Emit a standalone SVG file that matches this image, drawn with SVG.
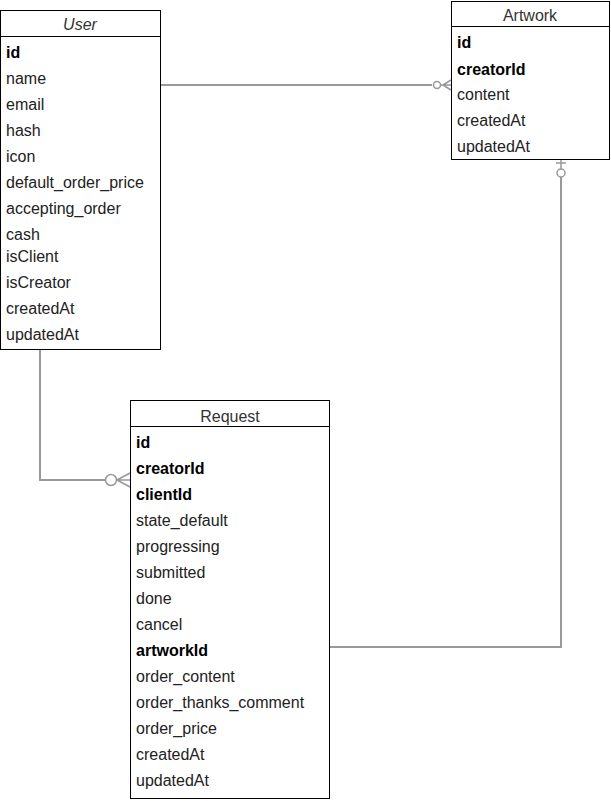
<svg xmlns="http://www.w3.org/2000/svg" width="611" height="801" viewBox="0 0 611 801">
<style>
.box{fill:#fff;stroke:#000;stroke-width:1}
.t{font-family:"Liberation Sans",Arial,sans-serif;font-size:16px;fill:#222}
.b{font-weight:bold;fill:#000}
.title{text-anchor:middle;fill:#333}
.c{fill:none;stroke:#999;stroke-width:2}
.m{fill:#fff;stroke:#999;stroke-width:1.5}
.f{fill:none;stroke:#999;stroke-width:1.5}
</style>
<rect width="611" height="801" fill="#fff"/>
<g id="connectors">
<path class="c" d="M160 85 H432"/>
<circle class="m" cx="437" cy="85" r="3.5"/>
<path class="f" d="M441 85 L451 85 M443 85 L451 80 M443 85 L451 90"/>
<path class="c" d="M40 349 V480 H105"/>
<circle class="m" cx="111" cy="480" r="5.5"/>
<path class="f" d="M117 480 L130 480 M117 480 L130 473 M117 480 L130 487"/>
<path class="c" d="M330 647 H561 V177"/>
<circle class="m" cx="561" cy="173" r="4"/>
<path class="f" d="M561 160 V169 M556 163 H566"/>
</g>
<g id="user">
<rect class="box" x="0.5" y="10.5" width="160" height="339"/>
<line x1="0.5" y1="36.5" x2="160.5" y2="36.5" stroke="#000"/>
<text class="t title" x="80" y="30" font-style="italic">User</text>
<text class="t b" x="6" y="58">id</text>
<text class="t" x="6" y="84">name</text>
<text class="t" x="6" y="110">email</text>
<text class="t" x="6" y="136">hash</text>
<text class="t" x="6" y="162">icon</text>
<text class="t" x="6" y="188">default_order_price</text>
<text class="t" x="6" y="214">accepting_order</text>
<text class="t" x="6" y="240">cash</text>
<text class="t" x="6" y="262">isClient</text>
<text class="t" x="6" y="288">isCreator</text>
<text class="t" x="6" y="314">createdAt</text>
<text class="t" x="6" y="340">updatedAt</text>
</g>
<g id="artwork">
<rect class="box" x="451.5" y="1.5" width="158" height="158"/>
<line x1="451.5" y1="26.5" x2="609.5" y2="26.5" stroke="#000"/>
<text class="t title" x="530" y="21">Artwork</text>
<text class="t b" x="457" y="48">id</text>
<text class="t b" x="457" y="75">creatorId</text>
<text class="t" x="457" y="100">content</text>
<text class="t" x="457" y="126">createdAt</text>
<text class="t" x="457" y="152">updatedAt</text>
</g>
<g id="request">
<rect class="box" x="130.5" y="400.5" width="199" height="398"/>
<line x1="130.5" y1="426.5" x2="329.5" y2="426.5" stroke="#000"/>
<text class="t title" x="230" y="422">Request</text>
<text class="t b" x="136" y="448">id</text>
<text class="t b" x="136" y="474">creatorId</text>
<text class="t b" x="136" y="500">clientId</text>
<text class="t" x="136" y="526">state_default</text>
<text class="t" x="136" y="552">progressing</text>
<text class="t" x="136" y="578">submitted</text>
<text class="t" x="136" y="604">done</text>
<text class="t" x="136" y="630">cancel</text>
<text class="t b" x="136" y="656">artworkId</text>
<text class="t" x="136" y="682">order_content</text>
<text class="t" x="136" y="708">order_thanks_comment</text>
<text class="t" x="136" y="734">order_price</text>
<text class="t" x="136" y="760">createdAt</text>
<text class="t" x="136" y="786">updatedAt</text>
</g>
</svg>
